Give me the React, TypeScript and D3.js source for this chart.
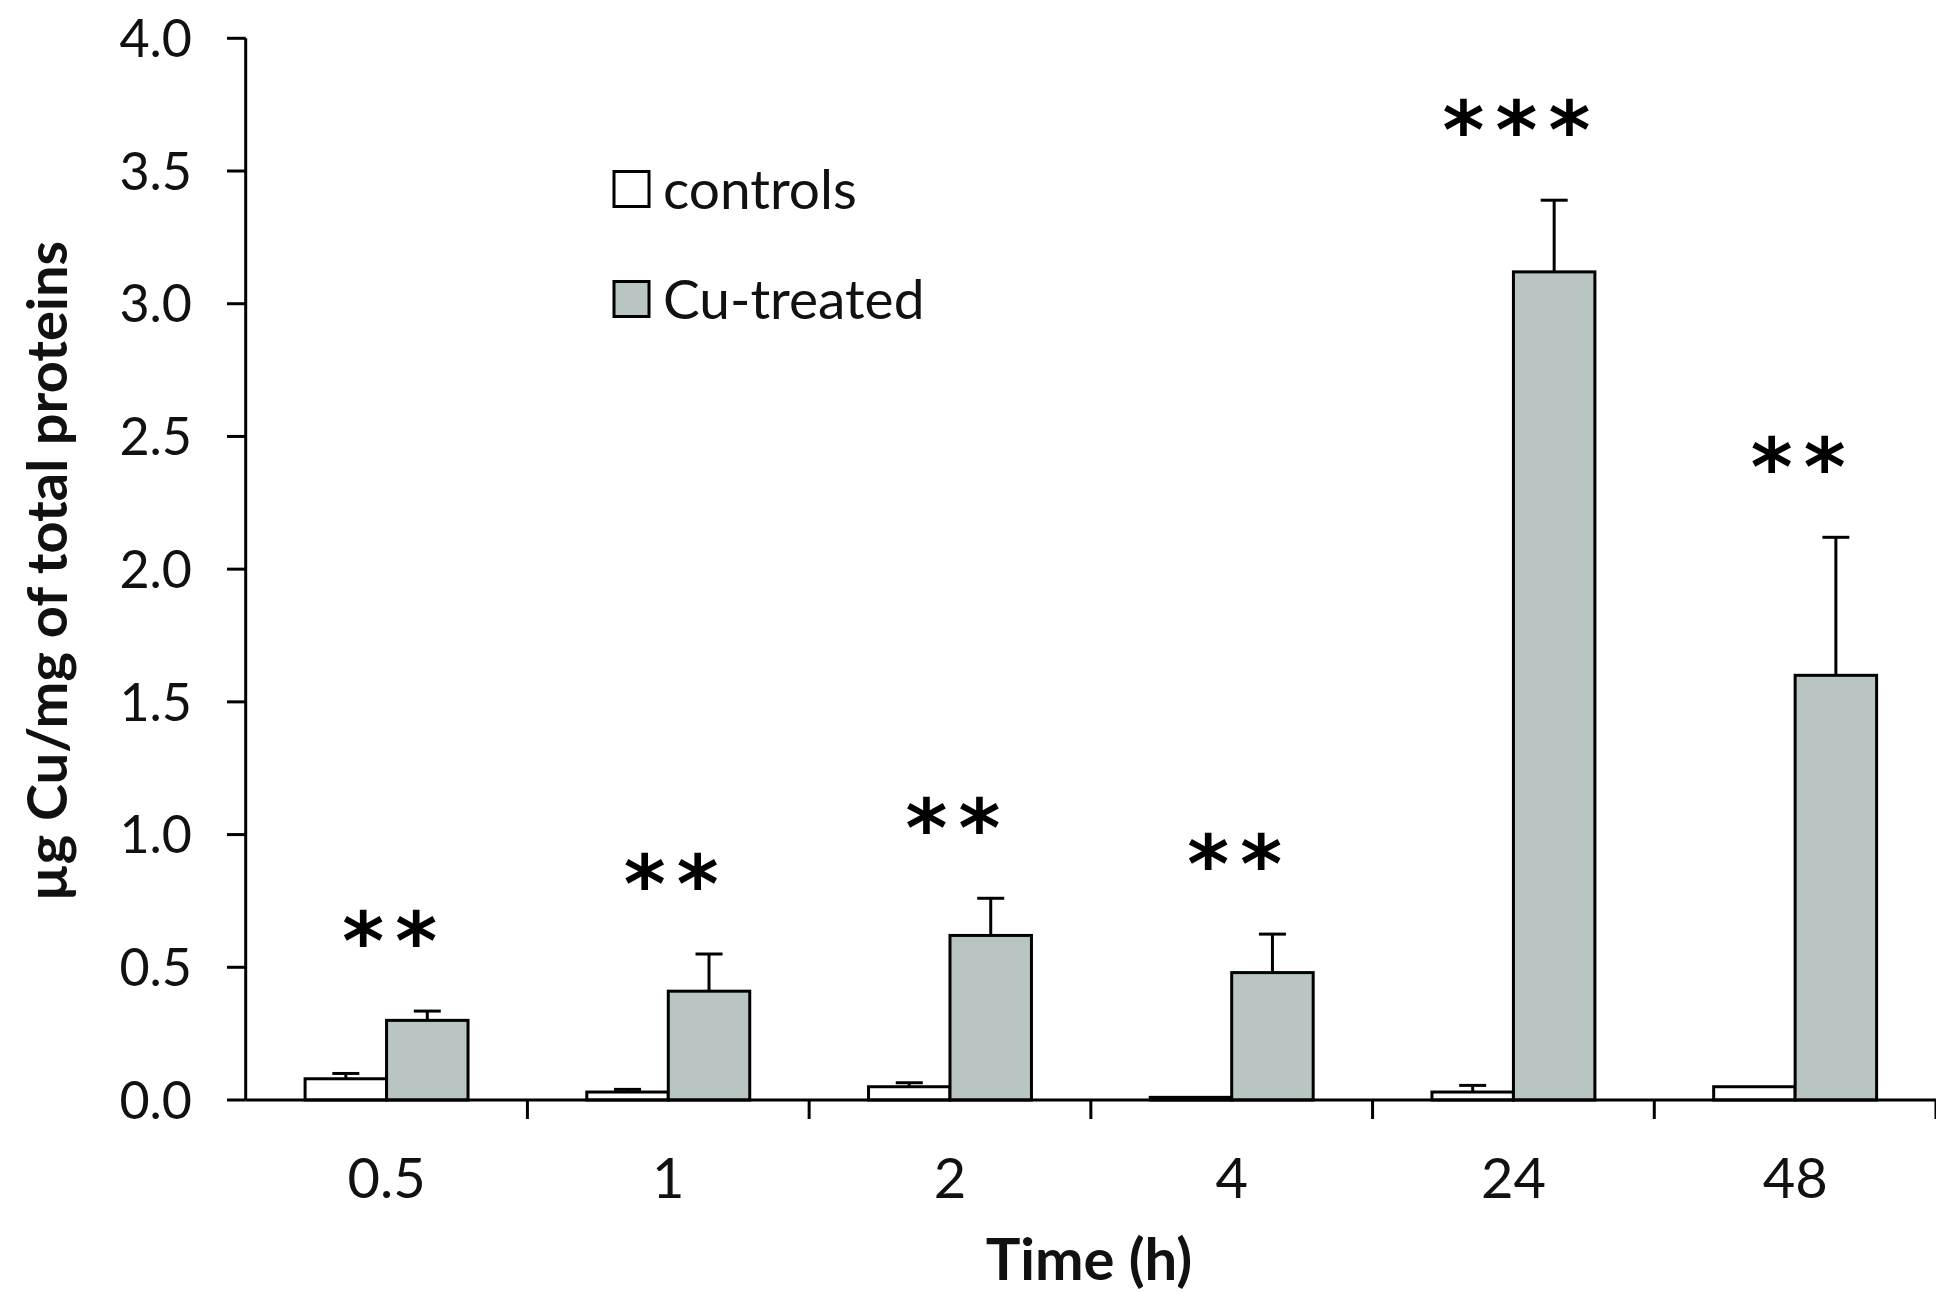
import React from "react";
import * as d3 from "d3";

const categories = ["0.5", "1", "2", "4", "24", "48"];
const seriesNames = ["controls", "Cu-treated"];
const controlsValues = [0.08, 0.03, 0.05, 0.01, 0.03, 0.05];
const controlsErrors = [0.02, 0.01, 0.015, 0.0, 0.025, 0.0];
const treatedValues = [0.3, 0.41, 0.62, 0.48, 3.12, 1.6];
const treatedErrors = [0.035, 0.14, 0.14, 0.145, 0.27, 0.52];
const significance = ["**", "**", "**", "**", "***", "**"];
const yTicks = [0, 0.5, 1, 1.5, 2, 2.5, 3, 3.5, 4];
const yTitle = "µg Cu/mg of total proteins";
const xTitle = "Time (h)";

const W = 1936;
const H = 1292;
const FONT = "Lato, 'Open Sans', sans-serif";
const GREY = "#b8c5c3";

export default function App() {
  const x0 = d3.scaleBand().domain(categories).range([245.7, 1936]).paddingInner(0).paddingOuter(0);
  const x1 = d3.scaleBand().domain(seriesNames).range([0, x0.bandwidth()]).paddingInner(0).paddingOuter(0.729);
  const y = d3.scaleLinear().domain([0, 4]).range([1100, 38.3]);
  const fills = ["#ffffff", GREY];
  const series = [
    { name: seriesNames[0], values: controlsValues, errors: controlsErrors },
    { name: seriesNames[1], values: treatedValues, errors: treatedErrors },
  ];
  const xAxisEnd = 1936;
  const capHalf = 13.5;

  return (
    <svg width={W} height={H} style={{ position: "absolute", left: 0, top: 0, background: "#fff" }}>
      {/* bars */}
      {series.map((s, si) =>
        categories.map((c, i) => {
          const bx = (x0(c) as number) + (x1(s.name) as number);
          const bw = x1.bandwidth();
          const top = y(s.values[i]);
          const errTop = y(s.values[i] + s.errors[i]);
          const cx = bx + bw / 2;
          return (
            <g key={s.name + c}>
              {s.errors[i] > 0 && (
                <g stroke="#000" strokeWidth={3}>
                  <line x1={cx} x2={cx} y1={top} y2={errTop} />
                  <line x1={cx - capHalf} x2={cx + capHalf} y1={errTop} y2={errTop} />
                </g>
              )}
              <rect x={bx} y={top} width={bw} height={y(0) - top} fill={fills[si]} stroke="#000" strokeWidth={3} />
            </g>
          );
        })
      )}
      {/* significance stars */}
      {categories.map((c, i) => {
        const cx = (x0(c) as number) + x0.bandwidth() / 2 + 3;
        const errTop = y(treatedValues[i] + treatedErrors[i]);
        const n = significance[i].length;
        return (
          <g key={"s" + c}>
            {d3.range(n).map((k) => (
              <text
                key={k}
                x={cx + (k - (n - 1) / 2) * 53}
                y={errTop - 92}
                dy="0.62em"
                textAnchor="middle"
                fontFamily="'DejaVu Sans', sans-serif"
                fontWeight="bold"
                fontSize={80}
                fill="#000"
              >
                *
              </text>
            ))}
          </g>
        );
      })}
      {/* x axis */}
      <line x1={245.7} x2={xAxisEnd} y1={y(0)} y2={y(0)} stroke="#000" strokeWidth={3} />
      {categories.map((c) => {
        const tx = (x0(c) as number) + x0.bandwidth();
        return <line key={"xt" + c} x1={tx} x2={tx} y1={y(0)} y2={y(0) + 19} stroke="#000" strokeWidth={3} />;
      })}
      {categories.map((c) => (
        <text
          key={"xl" + c}
          x={(x0(c) as number) + x0.bandwidth() / 2}
          y={1178}
          dy="0.36em"
          textAnchor="middle"
          fontFamily={FONT}
          fontSize={56}
          fill="#111"
        >
          {c}
        </text>
      ))}
      <text x={1089} y={1259} dy="0.36em" textAnchor="middle" fontFamily={FONT} fontWeight="bold" fontSize={58} fill="#111">
        {xTitle}
      </text>
      {/* y axis */}
      <line x1={245.7} x2={245.7} y1={y(4)} y2={y(0)} stroke="#000" strokeWidth={3} />
      {yTicks.map((t) => (
        <g key={"yt" + t}>
          <line x1={227} x2={245.7} y1={y(t)} y2={y(t)} stroke="#000" strokeWidth={3} />
          <text x={192} y={y(t)} dy="0.36em" textAnchor="end" fontFamily={FONT} fontSize={52} fill="#111">
            {d3.format(".1f")(t)}
          </text>
        </g>
      ))}
      <text
        transform={`translate(47,571) rotate(-90)`}
        dy="0.36em"
        textAnchor="middle"
        fontFamily={FONT}
        fontWeight="bold"
        fontSize={56}
        fill="#111"
      >
        {yTitle}
      </text>
      {/* legend */}
      {seriesNames.map((n, i) => (
        <g key={"lg" + n} transform={`translate(614, ${189 + i * 110})`}>
          <rect x={0} y={-17.5} width={35} height={35} fill={fills[i]} stroke="#000" strokeWidth={3} />
          <text x={49} y={0} dy="0.36em" fontFamily={FONT} fontSize={55} fill="#111">
            {n}
          </text>
        </g>
      ))}
    </svg>
  );
}
